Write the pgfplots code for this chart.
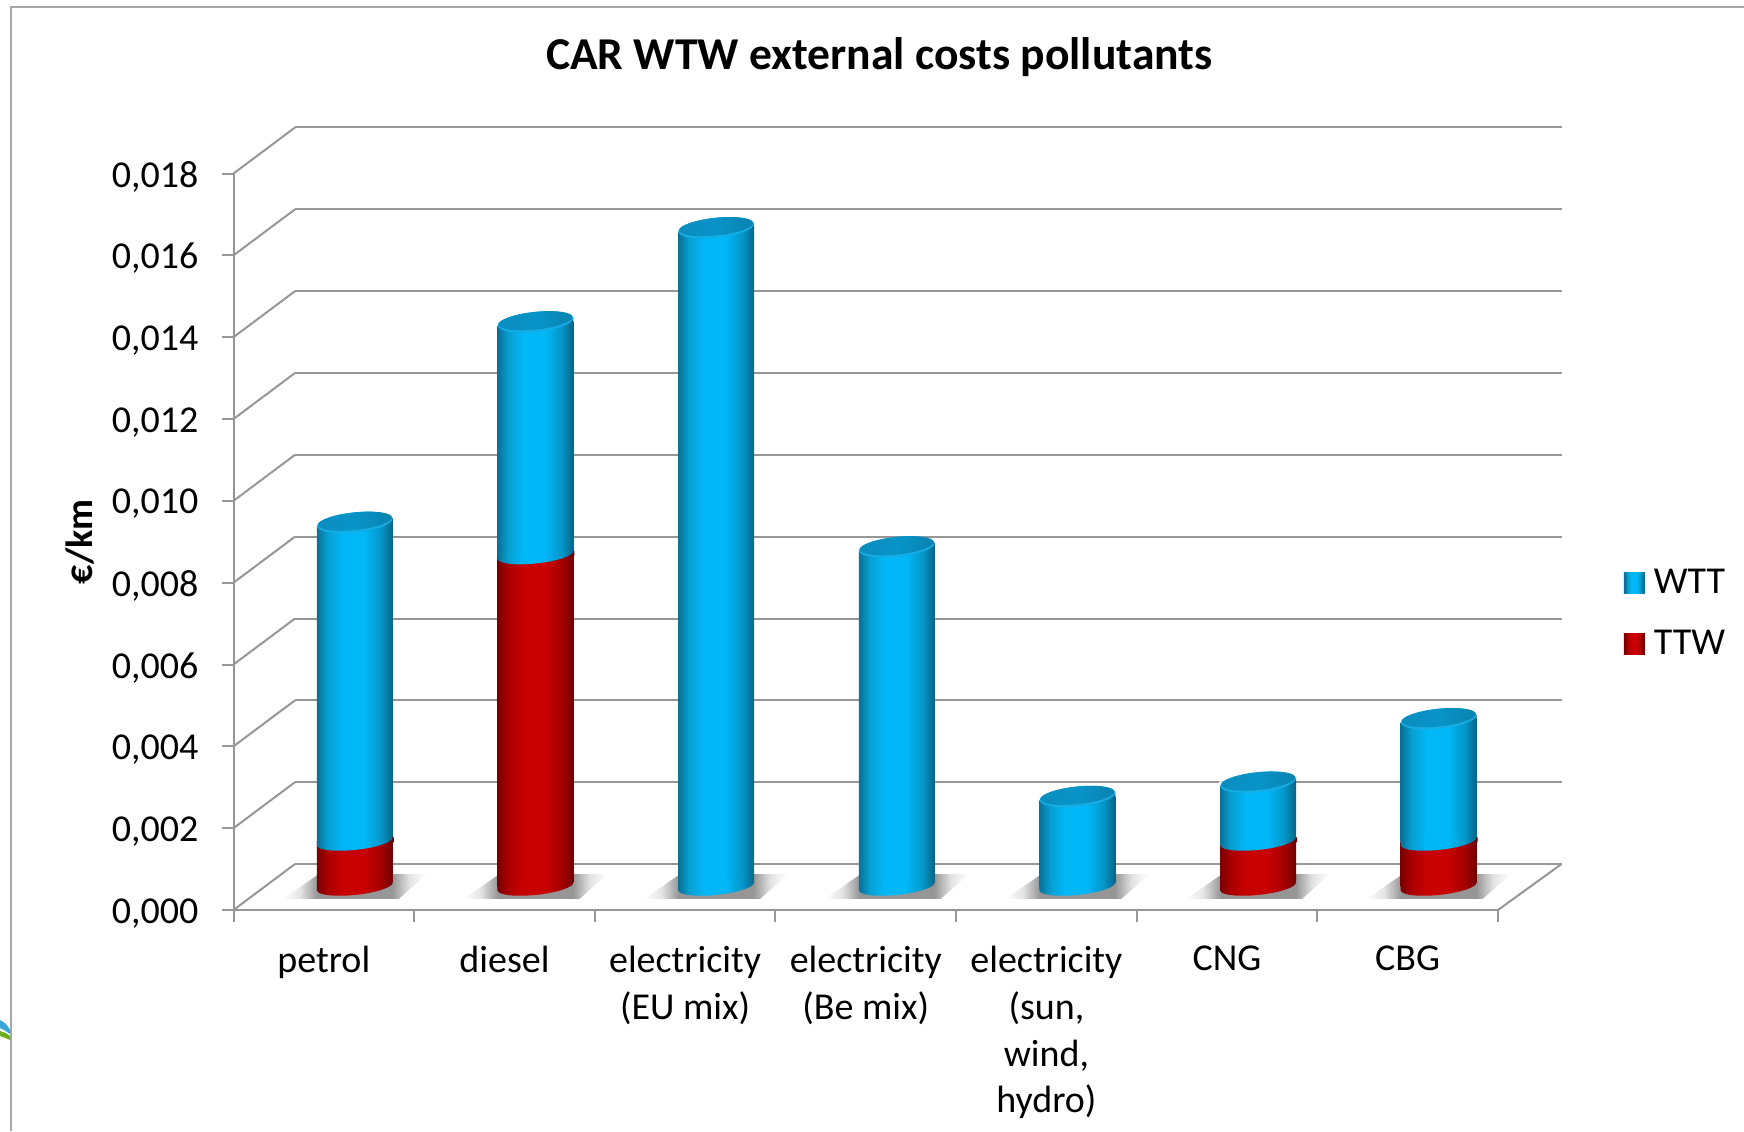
\documentclass[border=0pt]{standalone}
\usepackage{fontspec}
\setmainfont{Carlito}
\usepackage{pgfplots}
\pgfplotsset{compat=1.18}
\definecolor{axgray}{HTML}{969696}
\definecolor{frameg}{HTML}{A6A6A6}
\definecolor{bA}{RGB}{10,112,150}
\definecolor{bB}{RGB}{8,158,208}
\definecolor{bC}{RGB}{0,184,248}
\definecolor{bD}{RGB}{4,150,200}
\definecolor{bE}{RGB}{6,100,135}
\definecolor{rA}{RGB}{120,0,0}
\definecolor{rB}{RGB}{170,0,0}
\definecolor{rC}{RGB}{200,0,0}
\definecolor{rD}{RGB}{165,0,0}
\definecolor{rE}{RGB}{112,0,0}
\definecolor{cA}{RGB}{12,140,190}
\definecolor{cB}{RGB}{8,148,200}
\definecolor{cC}{RGB}{10,130,175}
\definecolor{cR}{RGB}{22,172,228}
\definecolor{sh}{RGB}{150,150,150}
\definecolor{shl}{RGB}{228,228,228}
\definecolor{logoB}{RGB}{60,165,215}
\definecolor{logoG}{RGB}{110,175,30}
\definecolor{lbA}{RGB}{10,136,184}
\definecolor{lbB}{RGB}{0,176,238}
\definecolor{lbC}{RGB}{60,205,255}
\definecolor{lrA}{RGB}{125,0,0}
\definecolor{lrB}{RGB}{195,0,0}
\definecolor{lrC}{RGB}{235,40,40}
\pgfdeclarehorizontalshading{cylblue}{100bp}{color(0bp)=(bA);color(25bp)=(bA);color(32bp)=(bB);color(42bp)=(bC);color(56bp)=(bC);color(67bp)=(bD);color(75bp)=(bE);color(100bp)=(bE)}
\pgfdeclarehorizontalshading{cylred}{100bp}{color(0bp)=(rA);color(25bp)=(rA);color(32bp)=(rB);color(42bp)=(rC);color(56bp)=(rC);color(67bp)=(rD);color(75bp)=(rE);color(100bp)=(rE)}
\pgfdeclarehorizontalshading{cylcap}{100bp}{color(0bp)=(cA);color(25bp)=(cA);color(50bp)=(cB);color(75bp)=(cC);color(100bp)=(cC)}
\pgfdeclarehorizontalshading{floorshadow}{100bp}{color(0bp)=(white);color(25bp)=(white);color(31bp)=(shl);color(37bp)=(sh);color(63bp)=(sh);color(69bp)=(shl);color(75bp)=(white);color(100bp)=(white)}
% wedge filling helpers for the tilted ends of the cylinders
\newcommand\cylwedge[7]{\pgfsetfillcolor{#1}\pgfpathmoveto{\pgfqpoint{#2pt}{#3pt}}\pgfpathlineto{\pgfqpoint{#4pt}{#5pt}}\pgfpathlineto{\pgfqpoint{#6pt}{#7pt}}\pgfpathclose\pgfusepath{fill}}
\newcommand\baseell[1]{\pgftransformrotate{6}\pgfpathellipse{\pgfpointorigin}{\pgfqpoint{19pt}{0pt}}{\pgfqpoint{0pt}{4.2pt}}\pgfshadepath{#1}{0}\pgfusepath{discard}}
\pgfdeclareplotmark{cylbaseblue}{\cylwedge{sh}{19.5}{2.2}{19.5}{-0.4}{13}{-0.4}\cylwedge{bA}{-19}{0.2}{-19}{-2.1}{-15}{0.2}\baseell{cylblue}}
\pgfdeclareplotmark{cylbaseblueonred}{\cylwedge{rE}{19.5}{2.2}{19.5}{-0.4}{13}{-0.4}\cylwedge{bA}{-19}{0.2}{-19}{-2.1}{-15}{0.2}\baseell{cylblue}}
\pgfdeclareplotmark{cylbasered}{\cylwedge{sh}{19.5}{2.2}{19.5}{-0.4}{13}{-0.4}\cylwedge{rA}{-19}{0.2}{-19}{-2.1}{-15}{0.2}\baseell{cylred}}
\pgfdeclareplotmark{cyltop}{\cylwedge{white}{-19.5}{-2.2}{-19.5}{0.4}{-13}{0.4}\cylwedge{bE}{19}{-0.4}{19}{2.1}{15}{1}%
  {\pgftransformrotate{6}\pgfsetfillcolor{cR}\pgfpathellipse{\pgfpointorigin}{\pgfqpoint{19pt}{0pt}}{\pgfqpoint{0pt}{5pt}}\pgfusepath{fill}}%
  \pgftransformshift{\pgfqpoint{0pt}{0.55pt}}\pgftransformrotate{6}\pgfpathellipse{\pgfpointorigin}{\pgfqpoint{18.6pt}{0pt}}{\pgfqpoint{0pt}{4.4pt}}\pgfshadepath{cylcap}{0}\pgfusepath{discard}}
\pgfdeclareplotmark{floorshade}{\pgfpathmoveto{\pgfqpoint{-36pt}{-6.2pt}}\pgfpathlineto{\pgfqpoint{22pt}{-6.2pt}}\pgfpathlineto{\pgfqpoint{36pt}{6.2pt}}\pgfpathlineto{\pgfqpoint{-18pt}{6.2pt}}\pgfpathclose\pgfshadepath{floorshadow}{0}\pgfusepath{discard}}
\pgfplotsset{
  common/.style={scale only axis,width=632.25pt,height=368.25pt,xmin=0,xmax=7,ymin=0,ymax=0.018},
  bare/.style={common,axis x line=none,axis y line=none,xtick=\empty,ytick=\empty,clip=false},
  barsaxis/.style={bare,at={(132.25pt,122.25pt)},ybar stacked,bar width=38pt},
  ttw/.style={draw=none,shade,shading=cylred},
  wtt/.style={draw=none,shade,shading=cylblue},
  wttlegend/.style={legend image code/.code={
    \fill[lbA] (0pt,-5.4pt) rectangle (10.5pt,5.4pt);
    \fill[lbB] (0.6pt,-4.8pt) rectangle (9.9pt,4.8pt);
    \fill[lbC] (0.6pt,4.8pt) -- (5.25pt,0.4pt) -- (9.9pt,4.8pt) -- cycle;}},
  ttwlegend/.style={legend image code/.code={
    \fill[lrA] (0pt,-5.4pt) rectangle (10.5pt,5.4pt);
    \fill[lrB] (0.6pt,-4.8pt) rectangle (9.9pt,4.8pt);
    \fill[lrC] (0.6pt,4.8pt) -- (5.25pt,0.4pt) -- (9.9pt,4.8pt) -- cycle;}},
}
% one stacked cylinder: position, TTW, WTT
\newcommand\stackedbar[3]{\begin{axis}[barsaxis]
\addplot[ttw] coordinates {(#1,#2)};
\addplot[wtt] coordinates {(#1,#3)};
\end{axis}}
% one cylinder without a TTW part: position, WTT
\newcommand\singlebar[2]{\begin{axis}[barsaxis]
\addplot[wtt] coordinates {(#1,#2)};
\end{axis}}
\begin{document}
\begin{tikzpicture}[x=1pt,y=1pt]
\path[use as bounding box] (0,0) rectangle (872,565.5);
% outer frame and logo remnant
\draw[frameg,line width=1pt] (5.5,0) -- (5.5,562) -- (872,562);
\fill[logoB] (0,55.5) .. controls (2,54.5) and (4,53) .. (5,50.5) -- (5,48.5) .. controls (3,50) and (1,51) .. (0,51.5) -- cycle;
\fill[logoG] (0,50) .. controls (2,49.5) and (4,48.5) .. (5,47.5) -- (5,45.5) .. controls (3,46.5) and (1,47) .. (0,47.5) -- cycle;
% back wall
\begin{axis}[common,at={(147.5pt,133.5pt)},width=633.5pt,
  axis line style={draw=none},tick style={draw=none},xtick=\empty,
  ytick={0,0.002,0.004,0.006,0.008,0.010,0.012,0.014,0.016,0.018},
  scaled y ticks=false,
  yticklabels={},major tick length=0pt,ymajorgrids,
  grid style={axgray,line width=1pt},clip=false]
\end{axis}
% floor shadows
\begin{axis}[bare,at={(132.25pt,122.25pt)}]
\addplot[only marks,mark=floorshade] coordinates {(0.5,0)(1.5,0)(2.5,0)(3.5,0)(4.5,0)(5.5,0)(6.5,0)};
\end{axis}
% stacked bars, one axis per cylinder so that each carries its own shading
\begin{axis}[barsaxis,
  reverse legend,legend cell align=left,
  legend style={at={(1.075,0.435)},anchor=north west,draw=none,fill=none,
    font=\fontsize{19}{22}\selectfont,inner sep=0pt,outer sep=0pt,row sep=14pt,
    nodes={inner sep=1.5pt},/tikz/every odd column/.append style={column sep=3pt}}]
\addplot[ttw,ttwlegend] coordinates {(0.5,0.0011)};
\addlegendentry{TTW}
\addplot[wtt,wttlegend] coordinates {(0.5,0.0078)};
\addlegendentry{WTT}
\end{axis}
\stackedbar{1.5}{0.0081}{0.0057}
\singlebar{2.5}{0.0161}
\singlebar{3.5}{0.0083}
\singlebar{4.5}{0.0022}
\stackedbar{5.5}{0.0011}{0.00145}
\stackedbar{6.5}{0.0011}{0.0030}
% round ends of the cylinders
\begin{axis}[bare,at={(132.25pt,122.25pt)}]
\addplot[only marks,mark=cylbasered] coordinates {(0.5,0)(1.5,0)(5.5,0)(6.5,0)};
\addplot[only marks,mark=cylbaseblue] coordinates {(2.5,0)(3.5,0)(4.5,0)};
\addplot[only marks,mark=cylbaseblueonred] coordinates {(0.5,0.0011)(1.5,0.0081)(5.5,0.0011)(6.5,0.0011)};
\addplot[only marks,mark=cyltop] coordinates {(0.5,0.0089)(1.5,0.0138)(2.5,0.0161)(3.5,0.0083)(4.5,0.0022)(5.5,0.00255)(6.5,0.0041)};
\end{axis}
% front axes
\begin{axis}[common,at={(116.75pt,110.5pt)},clip=false,
  axis x line*=bottom,axis y line*=left,
  x axis line style={-,axgray,line width=1pt},y axis line style={-,axgray,line width=1pt},
  xtick={0.5,1.5,2.5,3.5,4.5,5.5,6.5},minor xtick={0,1,2,3,4,5,6,7},
  xticklabels={petrol,diesel,{electricity\\(EU mix)},{electricity\\(Be mix)},{electricity\\(sun,\\wind,\\hydro)},CNG,CBG},
  xticklabel style={align=center,font=\fontsize{19}{23.4}\selectfont,yshift=-8.5pt},
  ytick={0,0.002,0.004,0.006,0.008,0.010,0.012,0.014,0.016,0.018},
  yticklabel style={/pgf/number format/fixed,/pgf/number format/fixed zerofill,/pgf/number format/precision=3,/pgf/number format/use comma,/pgf/number format/assume math mode=true,font=\fontsize{19}{22}\selectfont,xshift=-8pt,yshift=-1.6pt},
  scaled y ticks=false,
  y tick style={axgray,line width=1pt},
  major x tick style={draw=none},
  major tick length=6pt,
  tick align=outside,
  minor x tick style={axgray,line width=1pt},
  minor tick length=6pt,
  title={CAR WTW external costs pollutants},
  title style={font=\fontsize{22.8}{26}\selectfont\bfseries,at={(axis cs:3.575,0.018)},anchor=base,yshift=46pt},
  ylabel={€/km},
  ylabel style={font=\fontsize{19}{22}\selectfont\bfseries,at={(axis cs:-0.85,0.009)},anchor=center,rotate=0},
]
\pgfplotsinvokeforeach{0,0.002,0.004,0.006,0.008,0.010,0.012,0.014,0.016,0.018}{
  \draw[axgray,line width=1pt] (axis cs:0,#1) -- ++(30.75pt,23pt);
}
\draw[axgray,line width=1pt] (axis cs:7,0) -- ++(31.75pt,23pt);
\end{axis}
\end{tikzpicture}
\end{document}
